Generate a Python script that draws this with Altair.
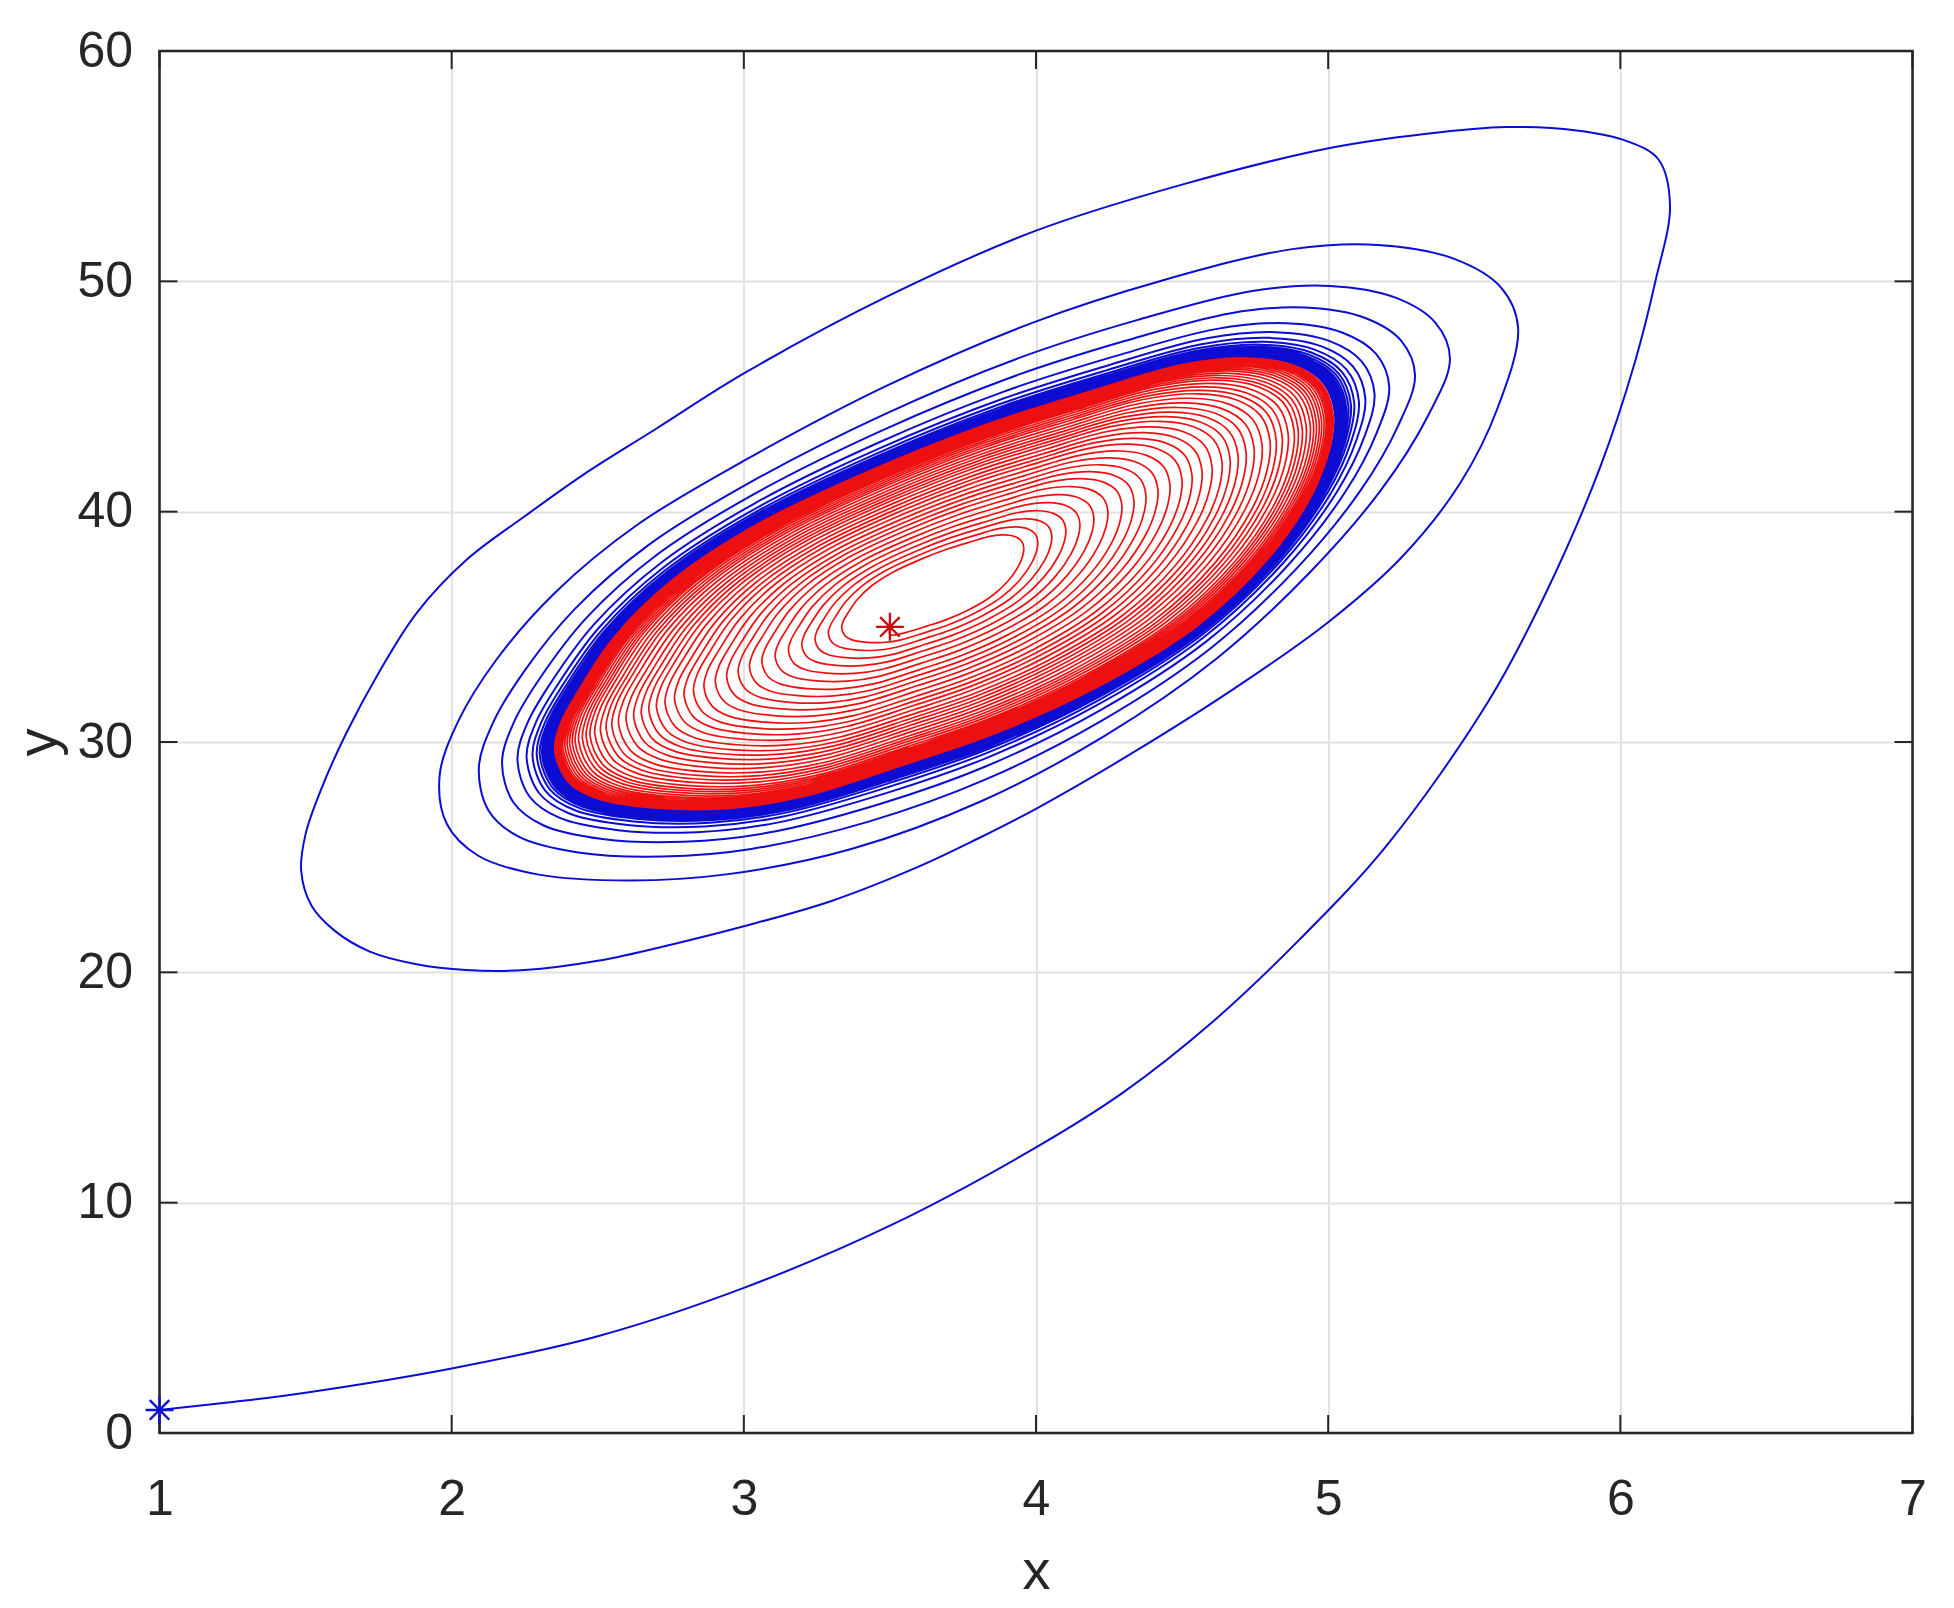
import altair as alt
import pandas as pd

# ---------------- data ----------------
X_TICKS = [1, 2, 3, 4, 5, 6, 7]
Y_TICKS = [0, 10, 20, 30, 40, 50, 60]

# blue trajectory: start at (1,1), first big loop (explicit points)
BLUE_LEAD_X = [1.00, 1.25, 1.50, 2.00, 2.50, 3.00, 3.50, 4.00, 4.30, 4.60, 4.90, 5.20, 5.55, 5.75,
               5.93, 6.05, 6.12, 6.17, 6.13, 6.02, 5.85, 5.61, 5.33, 5.01, 4.50, 4.00, 3.50, 3.00,
               2.70, 2.45, 2.25, 2.05, 1.88, 1.75, 1.64, 1.555, 1.50, 1.485, 1.52, 1.60, 1.72, 1.88,
               2.05, 2.25, 2.50, 2.75, 3.00, 3.30, 3.60, 3.80, 4.00, 4.34, 4.70, 5.00, 5.25, 5.45,
               5.58]
BLUE_LEAD_Y = [1.0, 1.35, 1.75, 2.8, 4.2, 6.3, 9.0, 12.4, 14.8, 17.8, 21.4, 25.5, 31.8, 36.6,
               41.9, 46.5, 50.0, 53.3, 55.3, 56.1, 56.55, 56.7, 56.4, 55.8, 54.2, 52.2, 49.4, 46.0,
               43.6, 41.6, 39.8, 37.9, 35.6, 33.0, 30.4, 28.0, 26.0, 24.4, 22.9, 21.8, 20.9, 20.35,
               20.1, 20.1, 20.5, 21.2, 22.0, 23.1, 24.6, 25.8, 27.1, 29.6, 32.5, 35.2, 38.0, 41.2,
               44.5]

# limit cycle (boundary between the blue and the red band), counter-clockwise from the right end
LC_X = [5.02, 4.98, 4.88, 4.72, 4.50, 4.20, 3.85, 3.45, 3.05, 2.75, 2.55, 2.43, 2.37,
        2.35, 2.40, 2.50, 2.70, 2.95, 3.20, 3.55, 3.85, 4.20, 4.55, 4.80, 4.95, 5.01]
LC_Y = [44.3, 45.6, 46.4, 46.7, 46.4, 45.3, 43.9, 41.9, 39.5, 37.0, 34.5, 32.2, 30.8,
        29.6, 28.2, 27.5, 27.1, 27.1, 27.6, 29.0, 30.3, 32.3, 35.0, 38.0, 40.8, 42.8]

# second blue loop, same anchor order
LOOP2_X = [5.65, 5.60, 5.45, 5.19, 4.90, 4.45, 4.00, 3.50, 3.00, 2.62, 2.32, 2.10, 1.95,
           1.87, 1.88, 1.98, 2.18, 2.50, 2.85, 3.30, 3.80, 4.25, 4.65, 5.00, 5.30, 5.52]
LOOP2_Y = [48.0, 49.8, 51.1, 51.8, 51.7, 50.4, 48.6, 45.9, 42.6, 39.8, 36.8, 33.8, 30.9,
           28.3, 26.0, 24.4, 23.4, 23.0, 23.1, 24.0, 26.3, 29.4, 33.0, 37.0, 41.0, 44.8]

# size of each following blue loop relative to loop 2 (1 = loop 2, 0 = limit cycle)
BLUE_AMP = [1.0, 0.63, 0.44, 0.30, 0.22, 0.17, 0.135, 0.11, 0.092, 0.078, 0.066, 0.056,
            0.048, 0.041, 0.035, 0.030, 0.026, 0.022, 0.019, 0.016, 0.014, 0.012, 0.010,
            0.0085, 0.007, 0.006, 0.005, 0.004, 0.003]

# red trajectory: starts at (3.5, 35) and grows out to the limit cycle
RED_CENTER_X = 3.65
RED_CENTER_Y = 36.7
RED_SCALE = [0.19, 0.225, 0.26, 0.295, 0.33, 0.365, 0.40, 0.435, 0.47, 0.50, 0.53, 0.56, 0.59,
             0.62, 0.645, 0.67, 0.695, 0.72, 0.74, 0.76, 0.78, 0.80, 0.82, 0.84, 0.855, 0.87,
             0.885, 0.90, 0.91, 0.92, 0.93, 0.94, 0.948, 0.955, 0.962, 0.968, 0.974, 0.979,
             0.983, 0.987, 0.990, 0.993, 0.995, 0.997, 0.998]
RED_START_ANCHOR = 16

STAR_BLUE = (1.0, 1.0)
STAR_RED = (3.5, 35.0)

# ---------------- build tables ----------------
M = len(LC_X)

blue_rows = []
n = 0
for x, y in zip(BLUE_LEAD_X, BLUE_LEAD_Y):
    blue_rows.append({"x": x, "y": y, "i": n}); n += 1
for k in range(len(BLUE_AMP) - 1):
    for j in range(M):
        a = BLUE_AMP[k] + (BLUE_AMP[k + 1] - BLUE_AMP[k]) * j / M
        blue_rows.append({"x": LC_X[j] + a * (LOOP2_X[j] - LC_X[j]),
                          "y": LC_Y[j] + a * (LOOP2_Y[j] - LC_Y[j]), "i": n}); n += 1
blue_df = pd.DataFrame(blue_rows)

red_rows = [{"x": STAR_RED[0], "y": STAR_RED[1], "i": 0}]
n = 1
for k in range(len(RED_SCALE) - 1):
    for j in range(M):
        if k == 0 and j <= RED_START_ANCHOR:
            continue
        s = RED_SCALE[k] + (RED_SCALE[k + 1] - RED_SCALE[k]) * j / M
        red_rows.append({"x": RED_CENTER_X + s * (LC_X[j] - RED_CENTER_X),
                         "y": RED_CENTER_Y + s * (LC_Y[j] - RED_CENTER_Y), "i": n}); n += 1
red_df = pd.DataFrame(red_rows)

W, H = 1753, 1382
TICK = 18
AX = "#262626"
FONT = "Liberation Sans"

xs = alt.Scale(domain=[1, 7], nice=False, zero=False)
ys = alt.Scale(domain=[0, 60], nice=False, zero=False)

blue = alt.Chart(blue_df).mark_line(color="#0c0cd2", strokeWidth=2.0,
                                    interpolate="catmull-rom").encode(
    x=alt.X("x:Q", scale=xs, title="x",
            axis=alt.Axis(values=X_TICKS, format="d", grid=True, ticks=False, tickSize=0,
                          domain=False, labelFlush=False, labelPadding=41, titleY=155,
                          titleBaseline="alphabetic")),
    y=alt.Y("y:Q", scale=ys, title="y",
            axis=alt.Axis(values=Y_TICKS, format="d", grid=True, ticks=False, tickSize=0,
                          domain=False, labelFlush=False, labelPadding=27, titleX=-104,
                          titleY=H / 2, titleBaseline="alphabetic", titleAngle=270)),
    order="i:Q",
)

red = alt.Chart(red_df).mark_line(color="#ee1010", strokeWidth=1.7,
                                  interpolate="catmull-rom").encode(
    x=alt.X("x:Q", scale=xs), y=alt.Y("y:Q", scale=ys), order="i:Q")

star_path = "M-1,0L1,0M0,-1L0,1M-0.7,-0.7L0.7,0.7M-0.7,0.7L0.7,-0.7"
star_b = alt.Chart(pd.DataFrame({"x": [STAR_BLUE[0]], "y": [STAR_BLUE[1]]})).mark_point(
    shape=star_path, filled=False, size=780, strokeWidth=2.4, color="#1010d0", opacity=1).encode(
    x=alt.X("x:Q", scale=xs), y=alt.Y("y:Q", scale=ys))
star_r = alt.Chart(pd.DataFrame({"x": [STAR_RED[0]], "y": [STAR_RED[1]]})).mark_point(
    shape=star_path, filled=False, size=780, strokeWidth=2.4, color="#c81010", opacity=1).encode(
    x=alt.X("x:Q", scale=xs), y=alt.Y("y:Q", scale=ys))

xt = pd.DataFrame({"x": X_TICKS})
yt = pd.DataFrame({"y": Y_TICKS})
tick_x_bottom = alt.Chart(xt).mark_rule(color=AX, strokeWidth=2).encode(
    x=alt.X("x:Q", scale=xs), y=alt.value(H), y2=alt.value(H - TICK))
tick_x_top = alt.Chart(xt).mark_rule(color=AX, strokeWidth=2).encode(
    x=alt.X("x:Q", scale=xs), y=alt.value(0), y2=alt.value(TICK))
tick_y_left = alt.Chart(yt).mark_rule(color=AX, strokeWidth=2).encode(
    y=alt.Y("y:Q", scale=ys), x=alt.value(0), x2=alt.value(TICK))
tick_y_right = alt.Chart(yt).mark_rule(color=AX, strokeWidth=2).encode(
    y=alt.Y("y:Q", scale=ys), x=alt.value(W), x2=alt.value(W - TICK))

frame = alt.Chart(pd.DataFrame({"a": [0]})).mark_rect(
    filled=False, stroke=AX, strokeWidth=2.5).encode(
    x=alt.value(0), x2=alt.value(W), y=alt.value(0), y2=alt.value(H))

chart = alt.layer(
    blue, red, tick_x_bottom, tick_x_top, tick_y_left, tick_y_right, frame, star_b, star_r
).properties(
    width=W, height=H,
    padding={"left": 151.5, "top": 43, "right": 20, "bottom": 168},
    autosize=alt.AutoSizeParams(type="none"),
).configure_view(stroke=None).configure_axis(
    labelFont=FONT, titleFont=FONT, labelFontSize=50, titleFontSize=56,
    labelColor=AX, titleColor=AX, titleFontWeight="normal",
    gridColor="#e2e2e2", gridWidth=2,
)

chart.save("out.html", embed_options={"renderer": "svg", "actions": False})
